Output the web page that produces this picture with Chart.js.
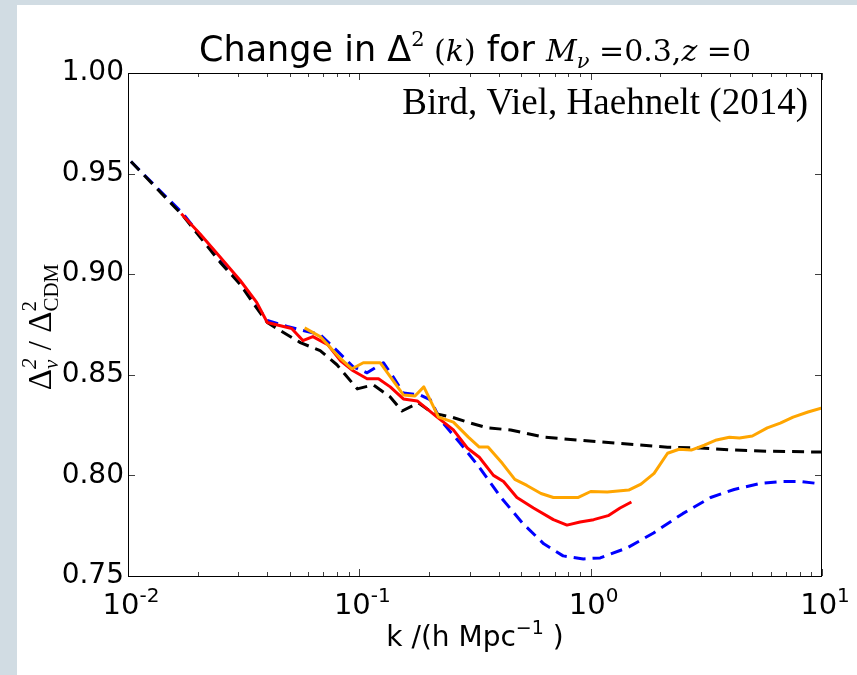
<!DOCTYPE html>
<html>
<head>
<meta charset="utf-8">
<script src="https://cdn.jsdelivr.net/npm/chart.js@4.4.0/dist/chart.umd.min.js"></script>
<style>
  html, body { margin: 0; padding: 0; background: #d1dce3; }
  #panel { position: absolute; left: 17px; top: 5px; width: 840px; height: 670px; background: #fff; }
  canvas { display: block; }
</style>
</head>
<body>
<div id="panel"><canvas id="ratioChart" width="840" height="670"></canvas></div>
<script>
// k in h/Mpc, ratio = Delta^2_nu / Delta^2_CDM
const halofitK = [0.0103, 0.0173, 0.025, 0.0305, 0.0361, 0.040, 0.047, 0.0556, 0.0677, 0.080, 0.098, 0.115, 0.136, 0.153, 0.18, 0.208, 0.25, 0.303, 0.358, 0.451, 0.627, 0.879, 1.31, 2.15, 2.99, 4.16, 5.83, 10];
const halofitRatio = [0.956, 0.929, 0.906, 0.895, 0.883, 0.876, 0.871, 0.866, 0.862, 0.855, 0.843, 0.845, 0.839, 0.832, 0.836, 0.831, 0.829, 0.826, 0.8236, 0.8226, 0.819, 0.8176, 0.816, 0.814, 0.8136, 0.8126, 0.812, 0.8116];

const newFitK = [0.0103, 0.0173, 0.025, 0.0296, 0.0347, 0.040, 0.0488, 0.0572, 0.0677, 0.080, 0.094, 0.108, 0.127, 0.14, 0.155, 0.183, 0.203, 0.224, 0.273, 0.33, 0.41, 0.51, 0.627, 0.76, 0.93, 1.1, 1.44, 1.87, 2.5, 3.3, 4.17, 5.4, 6.8, 8.1, 10];
const newFitRatio = [0.956, 0.930, 0.907, 0.898, 0.887, 0.877, 0.874, 0.872, 0.870, 0.862, 0.854, 0.851, 0.856, 0.849, 0.841, 0.840, 0.8375, 0.8276, 0.816, 0.804, 0.789, 0.776, 0.766, 0.760, 0.7585, 0.759, 0.764, 0.7714, 0.781, 0.789, 0.793, 0.796, 0.797, 0.797, 0.7957];

const lowResK = [0.017, 0.0205, 0.025, 0.0305, 0.036, 0.040, 0.051, 0.057, 0.063, 0.073, 0.083, 0.094, 0.108, 0.121, 0.136, 0.155, 0.178, 0.217, 0.255, 0.293, 0.33, 0.38, 0.42, 0.48, 0.566, 0.69, 0.79, 0.90, 1.03, 1.19, 1.34, 1.5];
const lowResRatio = [0.930, 0.920, 0.9085, 0.897, 0.886, 0.876, 0.873, 0.867, 0.869, 0.865, 0.857, 0.852, 0.848, 0.848, 0.844, 0.838, 0.837, 0.829, 0.8226, 0.8136, 0.809, 0.800, 0.797, 0.789, 0.7838, 0.778, 0.7753, 0.7768, 0.778, 0.780, 0.7838, 0.7868];

const highResK = [0.058, 0.0677, 0.083, 0.093, 0.104, 0.123, 0.155, 0.174, 0.19, 0.22, 0.255, 0.296, 0.33, 0.36, 0.415, 0.47, 0.53, 0.61, 0.69, 0.88, 1.0, 1.18, 1.46, 1.65, 1.88, 2.15, 2.41, 2.72, 3.1, 3.5, 3.98, 4.4, 5.0, 5.8, 6.6, 7.5, 8.7, 10];
const highResRatio = [0.8733, 0.869, 0.858, 0.853, 0.856, 0.856, 0.840, 0.8395, 0.844, 0.829, 0.8265, 0.819, 0.8141, 0.8141, 0.806, 0.798, 0.795, 0.791, 0.789, 0.789, 0.792, 0.7917, 0.7927, 0.7957, 0.801, 0.811, 0.813, 0.8126, 0.815, 0.8176, 0.819, 0.8186, 0.8196, 0.8236, 0.826, 0.829, 0.8315, 0.8335];

const yTicks = [0.75, 0.80, 0.85, 0.90, 0.95, 1.00];
const xDecades = [-2, -1, 0, 1];

function pts(ks, vs) {
    return ks.map((k, i) => ({ x: k, y: vs[i] }));
}

const SANS = '"DejaVu Sans"';
const SERIF = '"Liberation Serif"';
const MATH = '"DejaVu Serif"';

// a piece is [text, font, dy] or a stacked {sup, sub, font, dy1, dy2}
function pieceWidth(ctx, p) {
    if (Array.isArray(p)) { ctx.font = p[1]; return ctx.measureText(p[0]).width; }
    ctx.font = p.font;
    return Math.max(ctx.measureText(p.sup).width, ctx.measureText(p.sub).width);
}
function drawPieces(ctx, pieces, cx, baseline) {
    let total = 0;
    pieces.forEach(p => total += pieceWidth(ctx, p));
    let x = cx - total / 2;
    ctx.textAlign = 'left';
    ctx.textBaseline = 'alphabetic';
    pieces.forEach(p => {
        const w = pieceWidth(ctx, p);
        if (Array.isArray(p)) {
            ctx.font = p[1];
            ctx.fillText(p[0], x, baseline + (p[2] || 0));
        } else {
            ctx.font = p.font;
            ctx.fillText(p.sup, x, baseline + p.dy1);
            ctx.fillText(p.sub, x, baseline + p.dy2);
        }
        x += w;
    });
}

const framePlugin = {
    id: 'frame',
    afterDatasetsDraw(chart) {
        const { ctx, chartArea: a, scales: { x, y } } = chart;
        ctx.save();
        ctx.strokeStyle = '#000';
        ctx.lineWidth = 1;
        ctx.strokeRect(a.left + 0.5, a.top + 0.5, a.right - a.left - 1, a.bottom - a.top);

        // inward ticks on all four sides
        ctx.strokeStyle = 'rgba(0,0,0,0.75)';
        ctx.beginPath();
        xDecades.forEach(d => {
            for (let m = 1; m < 10; m++) {
                const v = m * Math.pow(10, d);
                if (v > 10.0001) break;
                const px = Math.round(x.getPixelForValue(v)) + 0.5;
                const len = m === 1 ? 7 : 4;
                ctx.moveTo(px, a.bottom); ctx.lineTo(px, a.bottom - len);
                ctx.moveTo(px, a.top); ctx.lineTo(px, a.top + len);
            }
        });
        yTicks.forEach(v => {
            const py = Math.round(y.getPixelForValue(v)) + 0.5;
            ctx.moveTo(a.left, py); ctx.lineTo(a.left + 7, py);
            ctx.moveTo(a.right, py); ctx.lineTo(a.right - 7, py);
        });
        ctx.stroke();

        // log tick labels 10^n
        ctx.fillStyle = '#000';
        xDecades.forEach(d => {
            const px = x.getPixelForValue(Math.pow(10, d));
            drawPieces(ctx, [['10', '29px ' + SANS], [String(d), '20px ' + SANS, -12]], px + 3, 609);
        });

        // annotation
        ctx.font = '37px ' + SERIF;
        ctx.textAlign = 'right';
        ctx.textBaseline = 'alphabetic';
        ctx.fillText('Bird, Viel, Haehnelt (2014)', 791, 109);

        // title
        drawPieces(ctx, [
            ['Change in ', '35px ' + SANS],
            ['\u0394', '35px ' + SANS],
            ['2', '21px ' + MATH, -15],
            [' (', '30px ' + MATH],
            ['k', 'italic 30px ' + MATH],
            [')', '30px ' + MATH],
            [' for ', '35px ' + SANS],
            ['M', 'italic 30px ' + MATH],
            ['\u03bd', 'italic 21px ' + MATH, 7],
            [' =0.3,', '30px ' + MATH],
            ['z', 'italic 30px ' + MATH],
            [' =0', '30px ' + MATH]
        ], 458, 56);

        // x axis label
        drawPieces(ctx, [
            ['k /(h Mpc', '28px ' + SANS],
            ['\u22121', '19px ' + SANS, -12],
            [' )', '28px ' + SANS]
        ], 458, 641);

        // y axis label, rotated
        ctx.translate(24, 322);
        ctx.rotate(-Math.PI / 2);
        drawPieces(ctx, [
            ['\u0394', '33px ' + SERIF],
            { sup: '2', sub: '\u03bd', font: 'italic 21px ' + SERIF, dy1: -15, dy2: 7 },
            [' / ', '33px ' + SERIF],
            ['\u0394', '33px ' + SERIF],
            { sup: '2', sub: 'CDM', font: '21px ' + SERIF, dy1: -15, dy2: 7 }
        ], 0, 10);
        ctx.restore();
    }
};

const ctx = document.getElementById('ratioChart').getContext('2d');
new Chart(ctx, {
    type: 'line',
    data: {
        datasets: [
            { data: pts(highResK, highResRatio), borderColor: '#ffa500', borderWidth: 3 },
            { data: pts(lowResK, lowResRatio), borderColor: '#ff0000', borderWidth: 3 },
            { data: pts(halofitK, halofitRatio), borderColor: '#000000', borderWidth: 3, borderDash: [12, 7] },
            { data: pts(newFitK, newFitRatio), borderColor: '#0000ff', borderWidth: 3, borderDash: [12, 7] }
        ]
    },
    options: {
        responsive: false,
        animation: false,
        events: [],
        layout: { padding: { left: 0, right: 35, top: 68, bottom: 99 } },
        elements: {
            point: { radius: 0 },
            line: { tension: 0, fill: false, borderCapStyle: 'butt', borderJoinStyle: 'round' }
        },
        plugins: { legend: { display: false }, tooltip: { enabled: false }, title: { display: false } },
        scales: {
            x: {
                type: 'logarithmic',
                min: 0.01,
                max: 10,
                display: false
            },
            y: {
                min: 0.75,
                max: 1.00,
                afterBuildTicks: scale => { scale.ticks = yTicks.map(v => ({ value: v })); },
                afterFit: scale => { scale.width = 111; },
                grid: { display: false, drawTicks: false },
                border: { display: false },
                ticks: {
                    color: '#000',
                    padding: 4,
                    font: { family: 'DejaVu Sans', size: 28 },
                    callback: v => v.toFixed(2)
                }
            }
        }
    },
    plugins: [framePlugin]
});
</script>
</body>
</html>
